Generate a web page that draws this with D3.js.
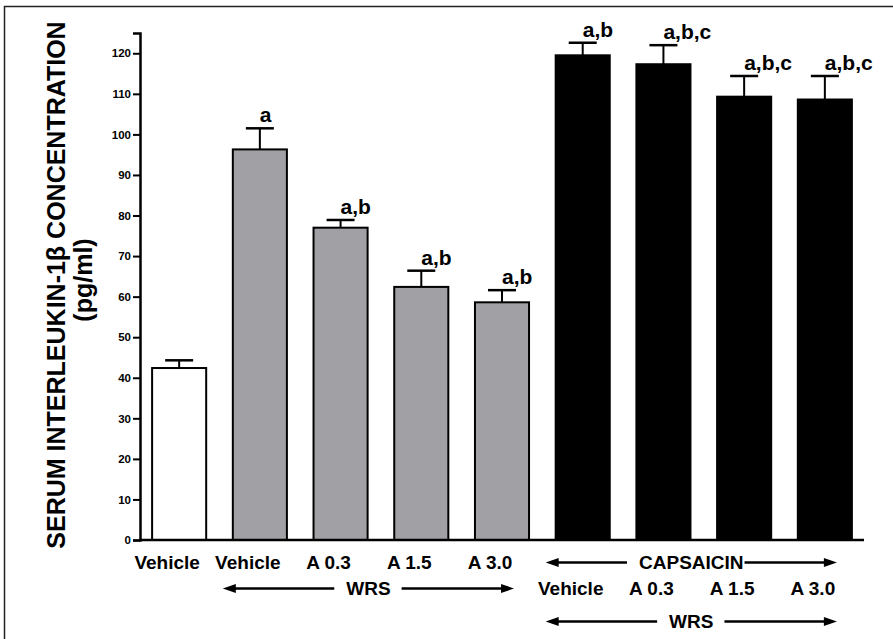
<!DOCTYPE html>
<html>
<head>
<meta charset="utf-8">
<script src="https://cdn.jsdelivr.net/npm/d3@7"></script>
<style>
    body { margin: 0; background: #ffffff; }
    text { font-family: Arial, "Liberation Sans", sans-serif; font-weight: bold; fill: #000000; }
</style>
</head>
<body>
<script>

// bar data
var categories = ["ctrlVeh", "wrsVeh", "wrsA03", "wrsA15", "wrsA30", "capVeh", "capA03", "capA15", "capA30"];
var treatment = ["control", "wrs", "wrs", "wrs", "wrs", "capsaicin", "capsaicin", "capsaicin", "capsaicin"];
var meanValues = [42.4, 96.3, 77.0, 62.4, 58.6, 119.5, 117.3, 109.3, 108.6];
var semValues = [1.9, 5.2, 1.9, 4.0, 3.0, 3.1, 4.7, 5.1, 5.8];
var significance = ["", "a", "a,b", "a,b", "a,b", "a,b", "a,b,c", "a,b,c", "a,b,c"];

// tick labels under the bars and the row they sit in
var tickLabels = ["Vehicle", "Vehicle", "A 0.3", "A 1.5", "A 3.0", "Vehicle", "A 0.3", "A 1.5", "A 3.0"];
var tickRows = [0, 0, 0, 0, 0, 1, 1, 1, 1];
var yTicks = [0, 10, 20, 30, 40, 50, 60, 70, 80, 90, 100, 110, 120];

// double arrows spanning groups of bars
var arrowTexts = ["WRS", "CAPSAICIN", "WRS"];
var arrowFrom = [1, 5, 5];
var arrowTo = [4, 8, 8];
var arrowRows = [1, 0, 2];

var yTitle = "SERUM INTERLEUKIN-1\u03b2 CONCENTRATION";
var yUnits = "(pg/ml)";

window.onload = function() {

    var width = 893;
    var height = 639;
    var margin = {top: 33, left: 140, right: 29, bottom: 99};
    var labelShift = -12;

    var fills = {control: "#ffffff", wrs: "#a1a0a5", capsaicin: "#000000"};

    var svg = d3.select("body").append("svg")
        .attr("width", width)
        .attr("height", height);

    // outer frame, cut off at right and bottom like the scan
    svg.append("rect")
        .attr("x", 4.5)
        .attr("y", 6.5)
        .attr("width", 1000)
        .attr("height", 1000)
        .attr("fill", "none")
        .attr("stroke", "#222")
        .attr("stroke-width", 1.5);

    var x = d3.scaleBand()
        .domain(categories)
        .range([margin.left, width - margin.right])
        .paddingInner(0.33)
        .paddingOuter(0.15);

    var y = d3.scaleLinear()
        .domain([0, 125])
        .range([height - margin.bottom, margin.top]);

    var y0 = y(0);

    // bars
    svg.selectAll(".bar")
        .data(categories)
        .enter()
        .append("rect")
        .attr("class", "bar")
        .attr("x", function(d) { return x(d); })
        .attr("y", function(d, i) { return y(meanValues[i]); })
        .attr("width", x.bandwidth())
        .attr("height", function(d, i) { return y0 - y(meanValues[i]); })
        .attr("fill", function(d, i) { return fills[treatment[i]]; })
        .attr("stroke", "#000")
        .attr("stroke-width", 2);

    // error bars (upper only)
    var capHalf = 14;
    categories.forEach(function(d, i) {
        var cx = x(d) + x.bandwidth() / 2;
        var top = y(meanValues[i] + semValues[i]);
        svg.append("line")
            .attr("x1", cx).attr("x2", cx)
            .attr("y1", y(meanValues[i])).attr("y2", top)
            .attr("stroke", "#000").attr("stroke-width", 2);
        svg.append("line")
            .attr("x1", cx - capHalf).attr("x2", cx + capHalf)
            .attr("y1", top).attr("y2", top)
            .attr("stroke", "#000").attr("stroke-width", 2.5);

        // significance letters
        svg.append("text")
            .attr("x", cx)
            .attr("y", top - 6)
            .style("font-size", "21px")
            .style("text-anchor", "start")
            .text(significance[i]);
    });

    // y axis
    var yAxis = d3.axisLeft(y)
        .tickValues(yTicks)
        .tickSize(7)
        .tickPadding(2);

    var yAxisG = svg.append("g")
        .attr("transform", "translate(" + margin.left + ",0)")
        .call(yAxis);
    yAxisG.select(".domain").attr("stroke-width", 2.5).attr("stroke", "#000");
    yAxisG.selectAll(".tick line").attr("stroke-width", 2).attr("stroke", "#000");
    yAxisG.selectAll(".tick text")
        .style("font-size", "11.5px")
        .style("font-family", "Arial, 'Liberation Sans', sans-serif")
        .style("font-weight", "bold");

    // x axis line
    svg.append("line")
        .attr("x1", margin.left - 1)
        .attr("x2", width - margin.right)
        .attr("y1", y0)
        .attr("y2", y0)
        .attr("stroke", "#000")
        .attr("stroke-width", 2.5);

    // tick labels under bars
    var rowBase = [y0 + 29, y0 + 55, y0 + 88];
    svg.selectAll(".tickLabel")
        .data(tickLabels)
        .enter()
        .append("text")
        .attr("class", "tickLabel")
        .attr("x", function(d, i) { return x(categories[i]) + x.bandwidth() / 2 + labelShift; })
        .attr("y", function(d, i) { return rowBase[tickRows[i]]; })
        .style("font-size", "19px")
        .style("text-anchor", "middle")
        .text(function(d) { return d; });

    // arrow with a label in the middle
    function arrowHead(px, py, dir) {
        var len = 13, half = 4.5;
        svg.append("path")
            .attr("d", "M" + px + "," + py + "L" + (px - dir * len) + "," + (py - half) +
                "L" + (px - dir * len) + "," + (py + half) + "Z")
            .attr("fill", "#000");
    }

    arrowTexts.forEach(function(t, i) {
        var left = x(categories[arrowFrom[i]]) - 10;
        var right = x(categories[arrowTo[i]]) + x.bandwidth() - 15;
        var base = rowBase[arrowRows[i]];
        var mid = (left + right) / 2;
        var label = svg.append("text")
            .attr("x", mid)
            .attr("y", base)
            .style("font-size", "19px")
            .style("text-anchor", "middle")
            .text(t);
        var w = label.node().getComputedTextLength();
        var ly = base - 6.5;
        var gapL = 12, gapR = (t == "CAPSAICIN") ? 1 : 11;

        svg.append("line")
            .attr("x1", left + 8).attr("x2", mid - w / 2 - gapL)
            .attr("y1", ly).attr("y2", ly)
            .attr("stroke", "#000").attr("stroke-width", 2.5);
        svg.append("line")
            .attr("x1", mid + w / 2 + gapR).attr("x2", right - 8)
            .attr("y1", ly).attr("y2", ly)
            .attr("stroke", "#000").attr("stroke-width", 2.5);
        arrowHead(left, ly, -1);
        arrowHead(right, ly, 1);
    });

    // y axis title, two lines
    var titleMid = 285;
    svg.append("text")
        .attr("transform", "translate(65," + titleMid + ") rotate(-90)")
        .style("font-size", "25px")
        .style("text-anchor", "middle")
        .text(yTitle);

    svg.append("text")
        .attr("transform", "translate(92," + (titleMid - 5) + ") rotate(-90)")
        .style("font-size", "25px")
        .style("text-anchor", "middle")
        .text(yUnits);

};

</script>
</body>
</html>
